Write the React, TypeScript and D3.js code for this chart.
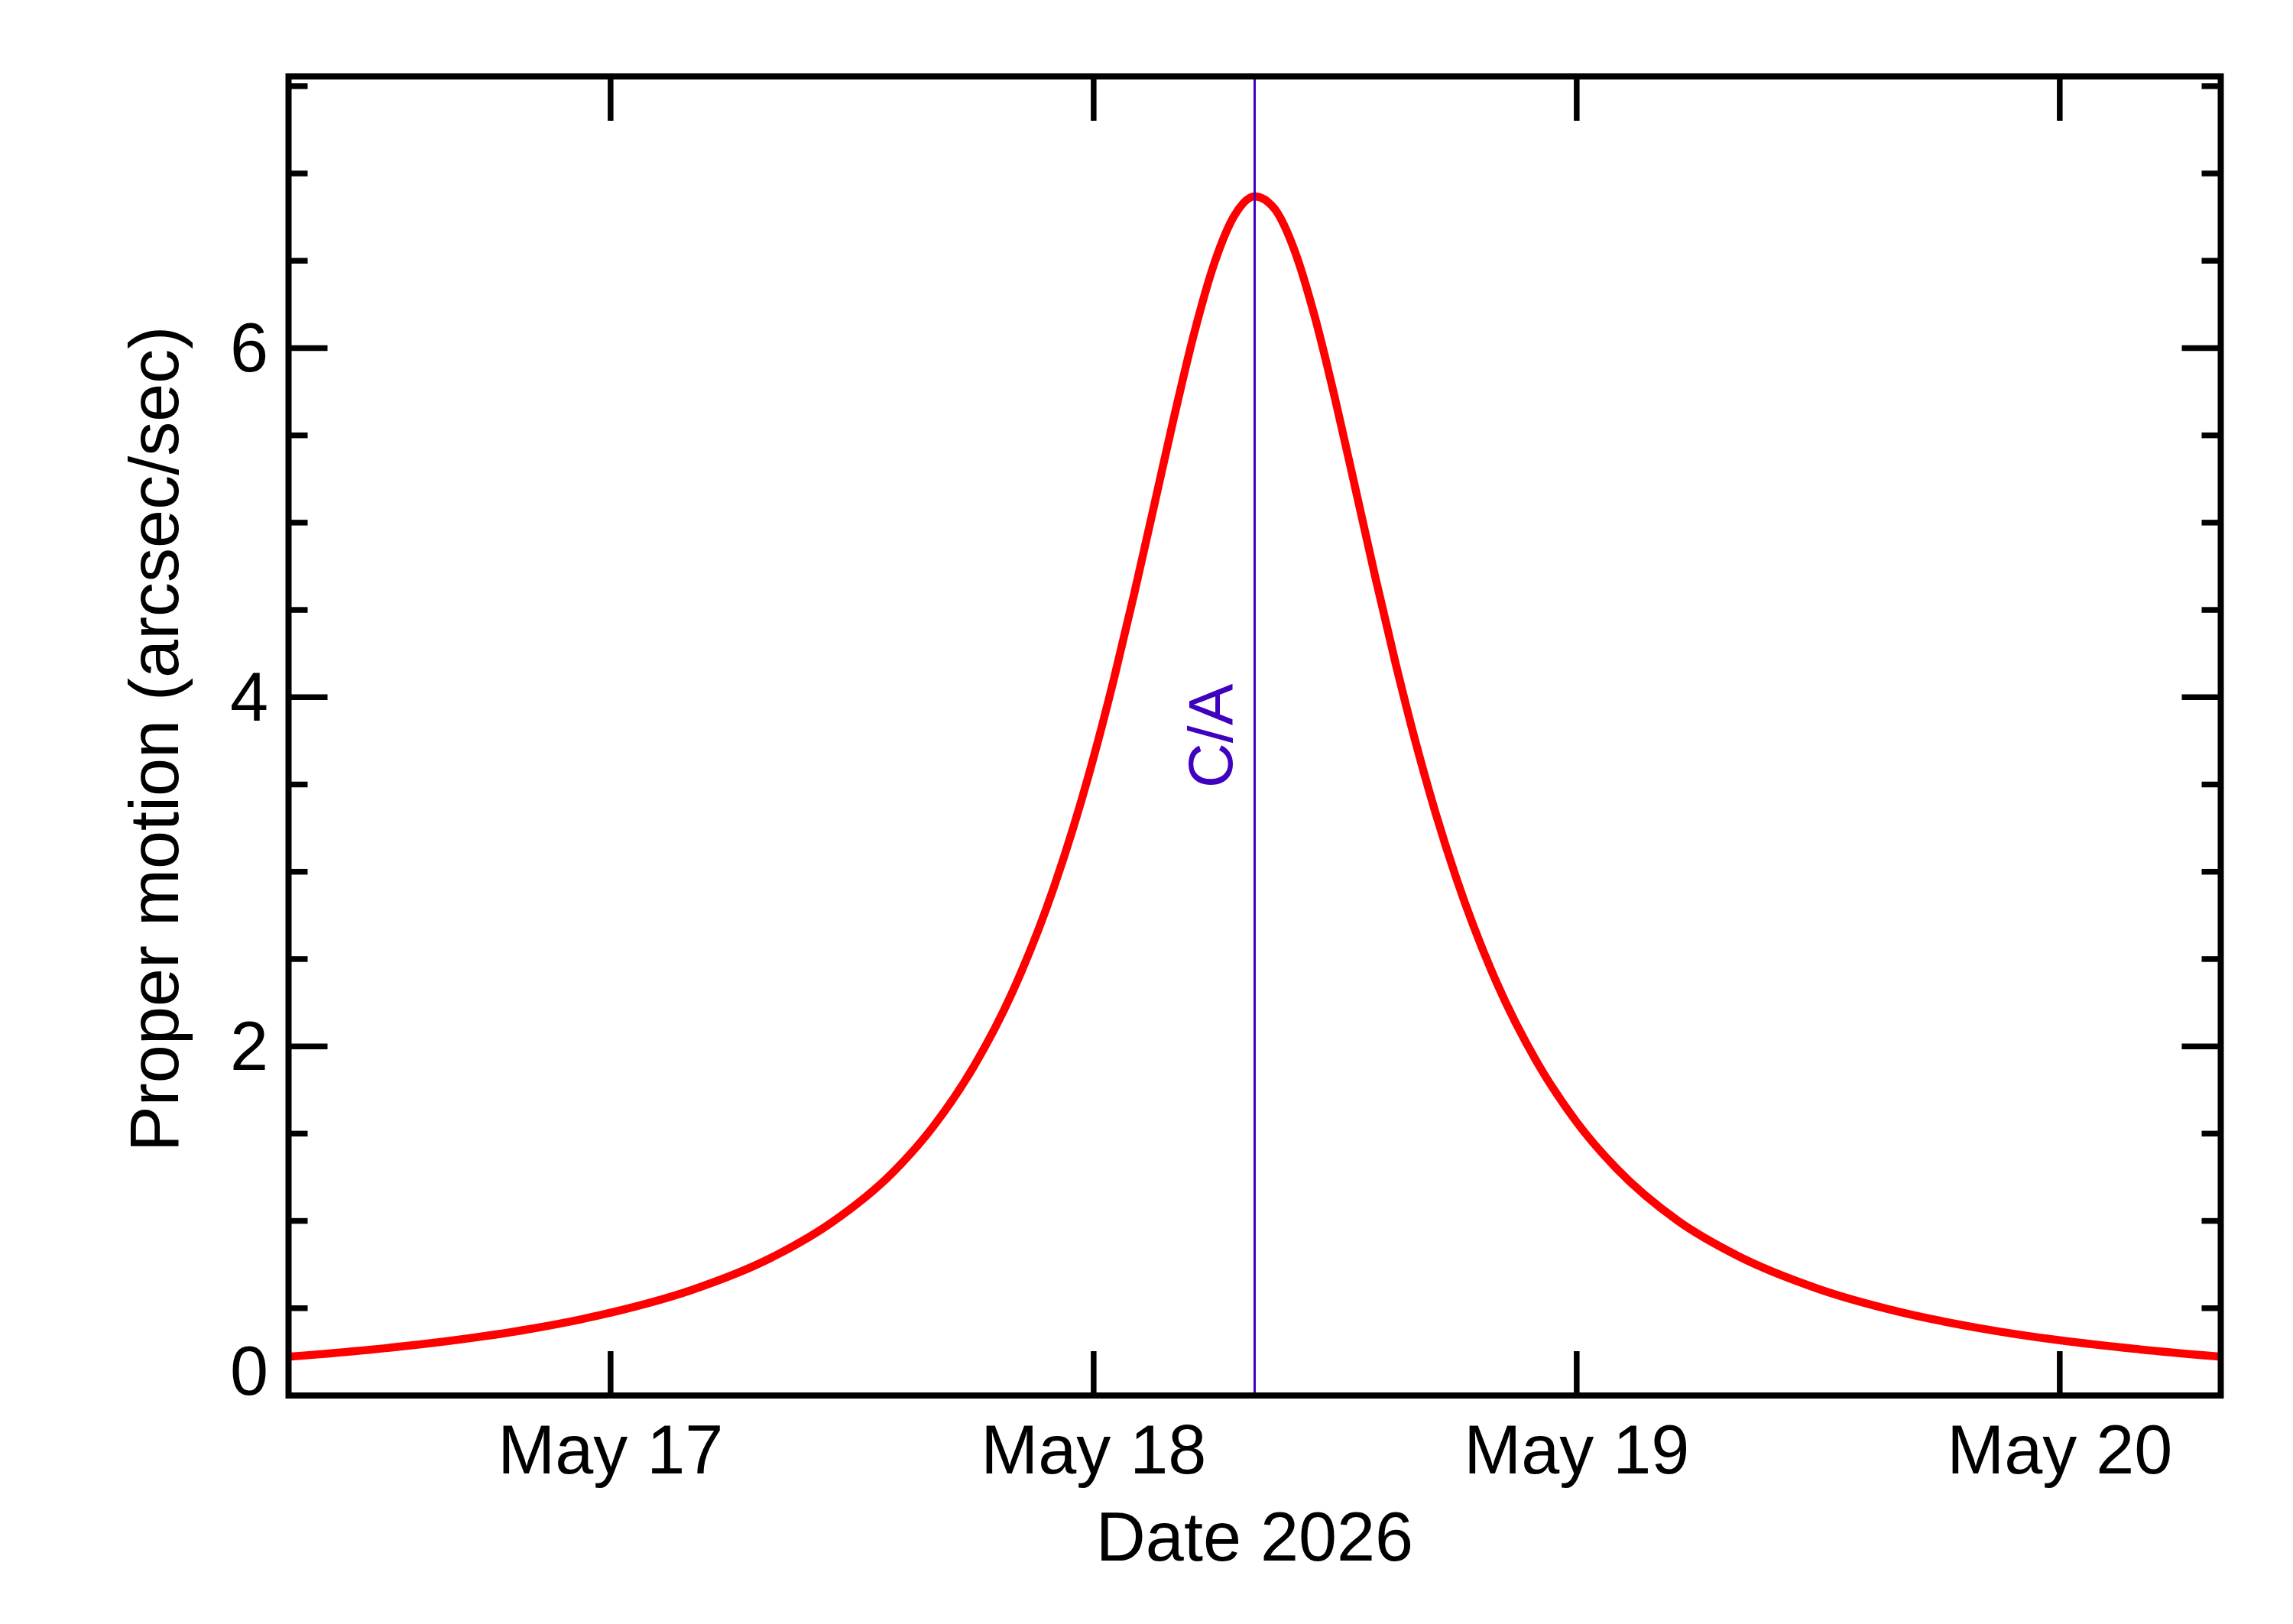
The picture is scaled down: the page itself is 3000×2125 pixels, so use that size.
import * as d3 from 'd3'

// hours counted from 2026-05-16 00:00 UTC
const hoursSinceMay16 = [
  8, 12, 16, 20, 24, 28, 32, 35, 38, 40, 42, 44, 46,
  47, 48, 49, 50, 51, 52, 53, 54, 55, 56, 57, 58, 59, 60, 61, 62, 63, 64, 65, 66,
  68, 70, 72, 74, 77, 80, 84, 88, 92, 96, 100, 104,
]
// arcsec/sec
const properMotion = [
  0.222, 0.262, 0.313, 0.381, 0.474, 0.603, 0.790, 0.992, 1.275, 1.536, 1.876, 2.320, 2.903,
  3.257, 3.656, 4.101, 4.585, 5.095, 5.607, 6.087, 6.487, 6.760, 6.869, 6.796, 6.553, 6.174, 5.707, 5.198, 4.685, 4.195, 3.741, 3.333, 2.970,
  2.371, 1.915, 1.566, 1.298, 1.003, 0.800, 0.611, 0.480, 0.386, 0.316, 0.264, 0.222,
]
const closeApproachHour = 56
const domainHours = [8, 104]
const xTickDays = [17, 18, 19, 20]
const yMajorTicks = [0, 2, 4, 6]
const yMinorTicks = [0.5, 1, 1.5, 2.5, 3, 3.5, 4.5, 5, 5.5, 6.5, 7, 7.5]

const FONT = 'Liberation Sans, Arial, Helvetica, sans-serif'
const FS = 90

function hourToDate(h: number) {
  return new Date(Date.UTC(2026, 4, 16) + h * 3600 * 1000)
}

export default function App() {
  const width = 3000
  const height = 2125
  const left = 377.5
  const right = 2905.5
  const top = 100
  const bottom = 1826

  const points = hoursSinceMay16.map((h, i) => ({date: hourToDate(h), value: properMotion[i]}))

  const x = d3.scaleUtc()
    .domain(domainHours.map(hourToDate))
    .range([left, right])
  const y = d3.scaleLinear()
    .domain([0, (d3.max(properMotion) ?? 1) * 1.1])
    .range([bottom, top])

  const line = d3.line<{date: Date, value: number}>()
    .x(d => x(d.date))
    .y(d => y(d.value))
    .curve(d3.curveMonotoneX)

  const fmt = d3.utcFormat('%b %-d')
  const caX = x(hourToDate(closeApproachHour))
  const midY = (top + bottom) / 2

  return (
    <svg
      width={width}
      height={height}
      viewBox={`0 0 ${width} ${height}`}
      style={{position: 'absolute', left: 0, top: 0, background: '#fff'}}
      fontFamily={FONT}
    >
      <rect x={0} y={0} width={width} height={height} fill="#fff" />
      <defs>
        <clipPath id="plot">
          <rect x={left} y={top} width={right - left} height={bottom - top} />
        </clipPath>
      </defs>

      <path
        d={line(points) ?? undefined}
        fill="none"
        stroke="#ff0000"
        strokeWidth={10.5}
        strokeLinejoin="round"
        clipPath="url(#plot)"
      />

      <line x1={caX} x2={caX} y1={top} y2={bottom} stroke="#4000c0" strokeWidth={3} />
      <text
        transform={`translate(${caX - 30}, ${midY}) rotate(-90)`}
        textAnchor="middle"
        fontSize={82}
        fill="#4000c0"
      >
        C/A
      </text>

      {/* y ticks, both sides */}
      {yMajorTicks.map(v => (
        <g key={'ymaj' + v} stroke="#000" strokeWidth={7.5}>
          <line x1={left} x2={left + 51} y1={y(v)} y2={y(v)} />
          <line x1={right} x2={right - 51} y1={y(v)} y2={y(v)} />
        </g>
      ))}
      {yMinorTicks.map(v => (
        <g key={'ymin' + v} stroke="#000" strokeWidth={7.5}>
          <line x1={left} x2={left + 25} y1={y(v)} y2={y(v)} />
          <line x1={right} x2={right - 25} y1={y(v)} y2={y(v)} />
        </g>
      ))}
      {yMajorTicks.map(v => (
        <text
          key={'ylab' + v}
          x={351}
          y={v === 0 ? y(v) - 1 : y(v) + 31}
          textAnchor="end"
          fontSize={FS}
          fill="#000"
        >
          {v}
        </text>
      ))}

      {/* x ticks, bottom and top */}
      {xTickDays.map(d => {
        const date = new Date(Date.UTC(2026, 4, d))
        const px = x(date)
        return (
          <g key={'x' + d}>
            <line x1={px} x2={px} y1={bottom} y2={bottom - 58} stroke="#000" strokeWidth={7.5} />
            <line x1={px} x2={px} y1={top} y2={top + 58} stroke="#000" strokeWidth={7.5} />
            <text x={px} y={1928} textAnchor="middle" fontSize={FS} fill="#000">
              {fmt(date)}
            </text>
          </g>
        )
      })}

      <rect
        x={left}
        y={top}
        width={right - left}
        height={bottom - top}
        fill="none"
        stroke="#000"
        strokeWidth={8}
      />

      <text x={(left + right) / 2} y={2042} textAnchor="middle" fontSize={FS} fill="#000">
        Date 2026
      </text>
      <text
        transform={`translate(233, ${midY + 4}) rotate(-90)`}
        textAnchor="middle"
        fontSize={FS}
        fill="#000"
      >
        Proper motion (arcsec/sec)
      </text>
    </svg>
  )
}
